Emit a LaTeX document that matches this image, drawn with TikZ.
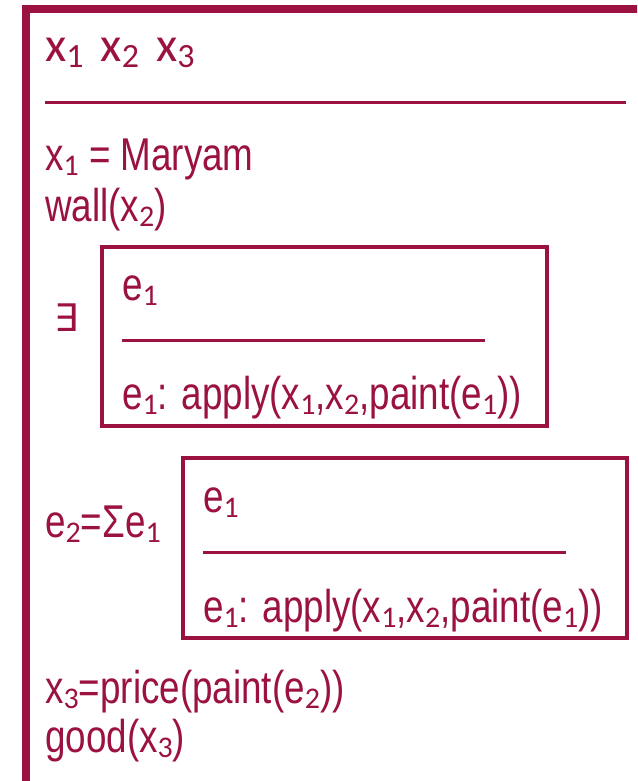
\documentclass[tikz,border=0pt]{standalone}
\usepackage{fontspec}
\setmainfont{Liberation Sans}[FakeStretch=0.8]
\newfontfamily\carl{Carlito}
\newfontfamily\dvs{DejaVu Sans}
\definecolor{drs}{HTML}{9B1242}
% subscript digits
\newcommand\sbs[1]{\raisebox{-5pt}{\carl\fontsize{30}{30}\selectfont #1}}
% discourse referent in the universe line
\newcommand\hx[1]{{\carl\fontsize{49}{49}\selectfont x}\raisebox{-6pt}{\carl\fontsize{34}{34}\selectfont #1}}
\begin{document}
\begin{tikzpicture}[x=1pt,y=-1pt,
  txt/.style={anchor=base west,inner sep=0pt,text=drs,font=\fontsize{46}{52}\selectfont},
  outer/.style={draw=drs,line width=8pt},
  frame/.style={draw=drs,line width=4pt},
  rule/.style={draw=drs,line width=3pt}]
\useasboundingbox (0,0) rectangle (637,781);
\clip (0,0) rectangle (637,781);
% outer DRS box (continues past the page edges)
\draw[outer] (26,9) rectangle (680,820);
% universe
\node[txt] (hdr) at (45,62) {\hx{1}\hspace{17pt}\hx{2}\hspace{17pt}\hx{3}};
\draw[rule] (45,103) -- (626,103);
% conditions
\node[txt] (c1) at (45,170) {x\sbs{1} = Maryam};
\node[txt] (c2) at (45,221) {wall(x\sbs{2})};
% existential sub-DRS
\node[txt,anchor=center,font=\dvs\fontsize{38}{38}\selectfont] (ex) at (67,318) {∃};
\draw[frame] (102,247) rectangle (547,426);
\node[txt] (b1v) at (122,300) {e\sbs{1}};
\draw[rule] (122,340) -- (485,340);
\node[txt] (b1c) at (122,409) {e\sbs{1}: apply(x\sbs{1},x\sbs{2},paint(e\sbs{1}))};
% summation sub-DRS
\node[txt] (sum) at (45,537) {e\sbs{2}=Σe\sbs{1}};
\draw[frame] (183,458) rectangle (627,638);
\node[txt] (b2v) at (203,512) {e\sbs{1}};
\draw[rule] (203,552) -- (566,552);
\node[txt] (b2c) at (203,622) {e\sbs{1}: apply(x\sbs{1},x\sbs{2},paint(e\sbs{1}))};
% remaining conditions
\node[txt] (c3) at (45,703) {x\sbs{3}=price(paint(e\sbs{2}))};
\node[txt] (c4) at (45,752) {good(x\sbs{3})};
\end{tikzpicture}
\end{document}
